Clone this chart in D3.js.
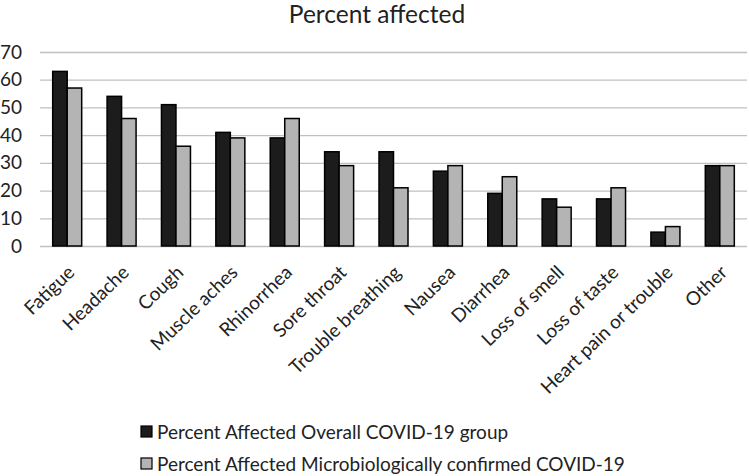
<!DOCTYPE html>
<html><head><meta charset="utf-8">
<script src="https://cdn.jsdelivr.net/npm/d3@7"></script>
<style>body{margin:0;background:#fff}svg{display:block}text{font-family:Lato,"Open Sans",sans-serif}</style>
</head><body><svg id="c" width="749" height="476"></svg>
<script>
const categories = ["Fatigue","Headache","Cough","Muscle aches","Rhinorrhea","Sore throat","Trouble breathing","Nausea","Diarrhea","Loss of smell","Loss of taste","Heart pain or trouble","Other"];
const overall = [63,54,51,41,39,34,34,27,19,17,17,5,29];
const confirmed = [57,46,36,39,46,29,21,29,25,14,21,7,29];
const seriesNames = ["Percent Affected Overall COVID-19 group","Percent Affected Microbiologically confirmed COVID-19"];
const seriesColors = ["#1c1c1c","#b4b4b4"];
const yTicks = [0,10,20,30,40,50,60,70];

(function(){
const svg = d3.select("#c");
const mL = 40, mR = 747, mT = 52, mB = 246;
const x = d3.scaleBand().domain(categories).range([mL,mR]).paddingInner(0).paddingOuter(0);
const y = d3.scaleLinear().domain([0,70]).range([mB,mT]);
const bw = 14.5;

svg.append("text").attr("x",377).attr("y",23).attr("text-anchor","middle").attr("font-size",24.5).attr("fill","#222").text("Percent affected");

const yAxis = svg.append("g").attr("transform",`translate(${mL},0)`).call(d3.axisLeft(y).tickValues(yTicks).tickSize(-(mR-mL)).tickPadding(18));
yAxis.select(".domain").remove();
yAxis.selectAll(".tick line").attr("stroke","#c0c0c0").attr("stroke-width",1.3);
yAxis.selectAll(".tick text").attr("font-size",19).attr("fill","#222").attr("font-family","Lato, sans-serif");

const data = categories.map((c,i)=>({c, v:[overall[i],confirmed[i]]}));
const g = svg.append("g");
data.forEach(d=>{
  const cx = x(d.c) + x.bandwidth()/2;
  d.v.forEach((v,j)=>{
    g.append("rect").attr("x", cx - bw + j*bw).attr("y", y(v)).attr("width", bw).attr("height", y(0)-y(v))
      .attr("fill", seriesColors[j]).attr("stroke","#000").attr("stroke-width",1.5);
  });
});

const xl = svg.append("g");
categories.forEach(c=>{
  const cx = x(c) + x.bandwidth()/2 + 4;
  xl.append("text").attr("transform",`translate(${cx},${269}) rotate(-44)`).attr("text-anchor","end")
    .attr("dy","0.35em").attr("font-size",19).attr("fill","#222").text(c);
});

const lg = svg.append("g");
seriesNames.forEach((n,i)=>{
  const yy = 432 + i*32;
  lg.append("rect").attr("x",141).attr("y",yy-6).attr("width",11).attr("height",11).attr("fill",seriesColors[i]).attr("stroke","#000").attr("stroke-width",1.2);
  lg.append("text").attr("x",157).attr("y",yy).attr("dy","0.35em").attr("font-size",19).attr("fill","#222").text(n);
});
})();
</script></body></html>
